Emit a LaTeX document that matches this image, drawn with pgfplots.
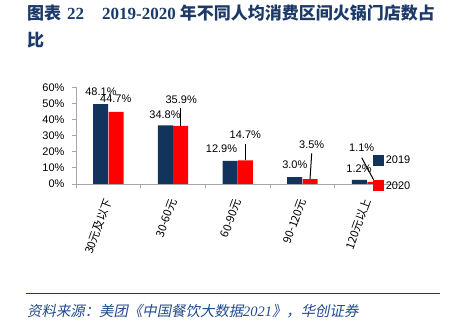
\documentclass[border=0pt]{standalone}
\usepackage{fontspec}
\usepackage{pgfplots}
\pgfplotsset{compat=1.18}
\setmainfont{Liberation Sans}
\newfontfamily\cjk{Noto Sans CJK SC}
\newfontfamily\cjkit[FakeSlant=0.2]{Noto Sans CJK SC}
\newfontfamily\serifb{Liberation Serif}
\definecolor{titleblue}{RGB}{28,58,104}
\definecolor{barblue}{RGB}{17,51,92}
\definecolor{barred}{RGB}{255,0,0}
\definecolor{srcblue}{RGB}{31,73,140}
\definecolor{axgray}{RGB}{166,166,166}
\newcommand\lbl{\fontsize{11bp}{13bp}\selectfont}
\begin{document}
\begin{tikzpicture}
\path[use as bounding box] (0,0) rectangle (454bp,330bp);
% title
\node[anchor=west, inner sep=0pt, text=titleblue, font=\fontsize{17bp}{19bp}\selectfont] at (27bp,316.5bp)
 {{\cjk\bfseries 图表}\hspace{6bp}{\serifb\bfseries 22}\hspace{18bp}{\serifb\bfseries 2019-2020}\hspace{4bp}{\cjk\bfseries 年不同人均消费区间火锅门店数占}};
\node[anchor=west, inner sep=0pt, text=titleblue, font=\fontsize{17bp}{19bp}\selectfont] at (27bp,290bp)
 {\cjk\bfseries 比};
% source
\draw[titleblue, line width=1bp] (26bp,36.7bp) -- (440bp,36.7bp);
\node[anchor=west, inner sep=0pt, text=srcblue, font=\fontsize{14.4bp}{16bp}\selectfont] at (27bp,18.5bp)
 {{\cjkit 资料来源：美团《中国餐饮大数据}{\serifb\itshape 2021}{\cjkit 》，华创证券}};
\begin{axis}[
  at={(76bp,146bp)}, anchor=south west,
  scale only axis, width=323.5bp, height=96.7bp,
  xmin=-0.5, xmax=4.5, ymin=0, ymax=60,
  axis x line=bottom, axis y line=left,
  axis line style={-, draw=axgray, line width=0.8bp},
  ybar, bar width=15bp,
  xtick={0,1,2,3,4},
  xticklabels={30元及以下,30-60元,60-90元,90-120元,120元以上},
  x tick label style={yshift=-12bp, xshift=1.5bp, rotate=70, anchor=east, font=\cjk\fontsize{11.3bp}{13bp}\selectfont},
  ytick={0,10,...,60},
  yticklabel={\pgfmathprintnumber{\tick}\%},
  y tick label style={font=\lbl, xshift=-8bp},
  /pgf/number format/assume math mode=true,
  major tick length=0pt,
  minor xtick={-0.5,0.5,...,4.5},
  minor ytick={0,10,...,60},
  minor tick length=4bp,
  tick align=outside,
  tick style={draw=axgray, line width=0.8bp},
  legend style={at={(0.917,0.31)}, anchor=north west, draw=none, fill=none, inner sep=0pt,
    font=\lbl, row sep=12bp, /tikz/every even column/.append style={column sep=0bp}},
  legend cell align=left,
  legend image code/.code={\fill[#1] (0bp,-5.5bp) rectangle (11bp,5.5bp);},
  clip=false,
]
\addplot[fill=barblue, draw=none, bar shift=-7.7bp] coordinates {(0,49.6) (1,36.4) (2,14.3) (3,4.3) (4,2.5)};
\addplot[fill=barred, draw=none, bar shift=7.7bp] coordinates {(0,44.7) (1,36.0) (2,14.7) (3,3.1) (4,1.3)};
\legend{2019,2020}
% leaders
\draw[black, line width=1bp] (axis cs:1.112,47.0) -- (axis cs:1.112,36.0);
\draw[black, line width=1bp] (axis cs:2.123,24.6) -- (axis cs:2.123,14.9);
\draw[black, line width=1bp] (axis cs:3.143,19.0) -- (axis cs:3.117,3.1);
\draw[black, line width=1bp] (axis cs:3.916,16.3) -- (axis cs:4.121,1.05);
% data labels
\node[font=\lbl, inner sep=0pt] at (axis cs:-0.114,57.4) {48.1\%};
\node[font=\lbl, inner sep=0pt] at (axis cs:0.115,53.2) {44.7\%};
\node[font=\lbl, inner sep=0pt] at (axis cs:0.876,43.1) {34.8\%};
\node[font=\lbl, inner sep=0pt] at (axis cs:1.126,52.2) {35.9\%};
\node[font=\lbl, inner sep=0pt] at (axis cs:1.749,22.0) {12.9\%};
\node[font=\lbl, inner sep=0pt] at (axis cs:2.117,30.4) {14.7\%};
\node[font=\lbl, inner sep=0pt] at (axis cs:2.882,12.0) {3.0\%};
\node[font=\lbl, inner sep=0pt] at (axis cs:3.143,24.4) {3.5\%};
\node[font=\lbl, inner sep=0pt] at (axis cs:3.916,22.8) {1.1\%};
\node[font=\lbl, inner sep=0pt] at (axis cs:3.874,9.7) {1.2\%};
\end{axis}
\end{tikzpicture}
\end{document}
